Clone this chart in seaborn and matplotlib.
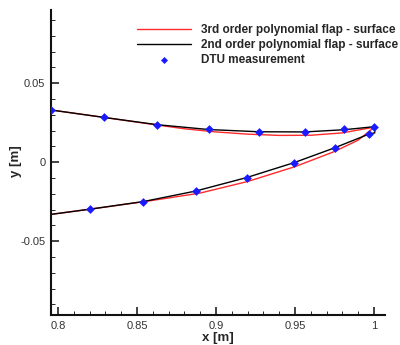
import matplotlib
matplotlib.use("Agg")
import matplotlib.pyplot as plt
import seaborn as sns
import numpy as np
from matplotlib.ticker import MultipleLocator

# Measurement data (DTU)
dtu_x = [0.7956, 0.8291, 0.8627, 0.8956, 0.9274, 0.9563, 0.9812, 0.9998,
         0.9970, 0.9753, 0.9496, 0.9194, 0.8873, 0.8540, 0.8203]
dtu_y = [0.0331, 0.0285, 0.0236, 0.0209, 0.0192, 0.0192, 0.0209, 0.0225,
         0.0179, 0.0089, -0.0006, -0.0101, -0.0184, -0.0250, -0.0297]

# 2nd order polynomial flap surface (closed contour: upper -> TE -> lower)
p2_x = [0.7956, 0.8291, 0.8627, 0.8956, 0.9274, 0.9563, 0.9812, 1.0000,
        1.0005, 1.0005, 0.9970, 0.9753, 0.9496, 0.9194, 0.8873, 0.8540, 0.8203, 0.7956]
p2_y = [0.0331, 0.0284, 0.0238, 0.0207, 0.0193, 0.0192, 0.0206, 0.0225,
        0.0222, 0.0186, 0.0179, 0.0092, -0.0002, -0.0097, -0.0182, -0.0249, -0.0297, -0.0330]

# 3rd order polynomial flap surface
p3_x = [0.7956, 0.8291, 0.8627, 0.8800, 0.9000, 0.9200, 0.9400, 0.9600, 0.9800, 1.0000,
        0.9990, 0.9900, 0.9750, 0.9500, 0.9200, 0.8900, 0.8700, 0.8540, 0.8203, 0.7956]
p3_y = [0.0331, 0.0284, 0.0236, 0.0212, 0.0192, 0.0178, 0.0170, 0.0171, 0.0186, 0.0222,
        0.0212, 0.0140, 0.0068, -0.0028, -0.0122, -0.0195, -0.0226, -0.0250, -0.0297, -0.0330]

sns.set_style("ticks")
plt.rcParams['font.family'] = ['Liberation Sans', 'DejaVu Sans']

fig = plt.figure(figsize=(4.0, 3.45), dpi=100)
ax = fig.add_axes([0.1275, 0.087, 0.835, 0.884])

sns.lineplot(x=p3_x, y=p3_y, sort=False, estimator=None, color='#ff2a2a', lw=1.0,
             label='3rd order polynomial flap - surface', ax=ax)
sns.lineplot(x=p2_x, y=p2_y, sort=False, estimator=None, color='black', lw=1.0,
             label='2nd order polynomial flap - surface', ax=ax)
sns.scatterplot(x=dtu_x, y=dtu_y, marker='D', s=20, color='#1a1aff', edgecolor='#1a1aff',
                linewidth=0, label='DTU measurement', ax=ax, zorder=5)

ax.set_xlim(0.7956, 1.007)
ax.set_ylim(-0.0967, 0.0964)
ax.xaxis.set_major_locator(MultipleLocator(0.05))
ax.xaxis.set_minor_locator(MultipleLocator(0.01))
ax.yaxis.set_major_locator(MultipleLocator(0.05))
ax.yaxis.set_minor_locator(MultipleLocator(0.01))
ax.set_xticks([0.8, 0.85, 0.9, 0.95, 1.0])
ax.set_xticklabels(['0.8', '0.85', '0.9', '0.95', '1'])
ax.set_yticks([-0.05, 0, 0.05])
ax.set_yticklabels(['-0.05', '0', '0.05'])
ax.tick_params(axis='both', which='major', direction='in', length=6, width=1.2,
               labelsize=8.0, colors='#222222', labelcolor='#333333', pad=4)
ax.tick_params(axis='x', which='major', pad=4.5)
ax.tick_params(axis='both', which='minor', direction='in', length=3, width=0.7)
for s in ['top', 'right']:
    ax.spines[s].set_visible(False)
for s in ['left', 'bottom']:
    ax.spines[s].set_linewidth(1.5)
    ax.spines[s].set_color('#111111')

ax.set_xlabel('x [m]', fontsize=9.5, fontweight='bold')
ax.set_ylabel('y [m]', fontsize=9.5, fontweight='bold')
ax.xaxis.set_label_coords(0.50, -0.074)
ax.yaxis.set_label_coords(-0.105, 0.505)
ax.xaxis.label.set_va('center')
ax.yaxis.label.set_va('center')

leg = ax.legend(loc='upper left', bbox_to_anchor=(0.2575, 0.955), frameon=False,
                prop={'weight': 'bold', 'size': 8.5}, handlelength=4.6,
                handletextpad=0.85, labelspacing=0.25, borderpad=0, borderaxespad=0,
                markerscale=0.8)

fig.savefig('out.png', dpi=100)
